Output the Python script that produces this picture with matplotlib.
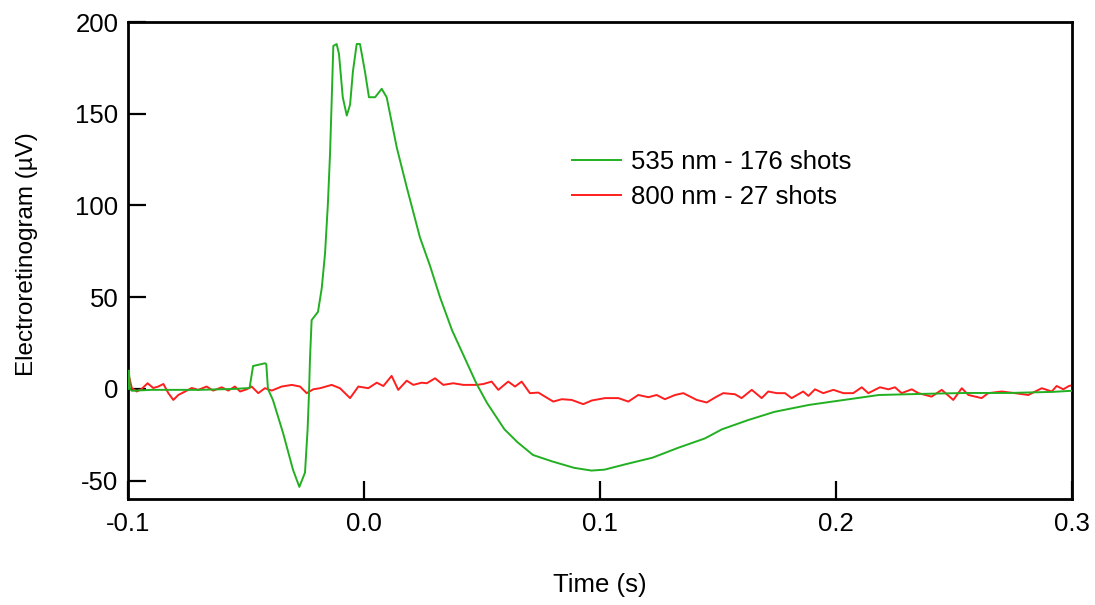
import matplotlib
matplotlib.use("Agg")
import matplotlib.pyplot as plt

plt.rcParams["font.family"] = ["Liberation Sans", "DejaVu Sans"]
plt.rcParams["axes.unicode_minus"] = False

# 535 nm trace (time in s, ERG in uV)
t_green = [-0.1000, -0.0996, -0.0992, -0.0984, -0.090, -0.070, -0.055, -0.0485,
           -0.0470, -0.0419, -0.0414, -0.0407, -0.0386, -0.0343, -0.0301,
           -0.0274, -0.0250, -0.0239, -0.0233, -0.0229, -0.0222, -0.0195,
           -0.0179, -0.0165, -0.0153, -0.0144, -0.0137, -0.0130, -0.0116,
           -0.0106, -0.0090, -0.0073, -0.0059, -0.0047, -0.0031, -0.0017,
           0.0004, 0.0021, 0.0047, 0.0075, 0.0096, 0.0139, 0.0181, 0.0237,
           0.0280, 0.0322, 0.0373, 0.0475, 0.0521, 0.0595, 0.0650, 0.0716,
           0.0797, 0.0890, 0.0964, 0.1019, 0.1110, 0.1222, 0.1333, 0.1444,
           0.1517, 0.1627, 0.1739, 0.1886, 0.2034, 0.2182, 0.2364, 0.2551,
           0.2735, 0.2919, 0.3000]
v_green = [0.0, 10.0, 0.0, -1.0, -0.5, -0.5, 0.0, 0.5,
           12.5, 14.0, 13.5, 0.0, -6.0, -24.0, -44.0,
           -53.4, -45.6, -22.0, -2.0, 16.0, 37.5, 42.0,
           55.0, 74.0, 101.0, 128.0, 157.0, 187.0, 188.0,
           182.6, 159.0, 149.0, 155.0, 173.0, 188.0, 188.0,
           173.0, 159.0, 159.0, 163.6, 159.0, 131.5, 110.0, 82.6,
           67.0, 50.0, 32.0, 3.3, -7.6, -22.0, -29.0, -36.0,
           -39.5, -43.0, -44.5, -44.0, -41.0, -37.5, -32.0, -27.0,
           -22.0, -17.0, -12.5, -8.7, -6.0, -3.3, -2.7, -2.2,
           -2.2, -1.6, -1.0]

# 800 nm trace
t_red = [-0.0999, -0.0984, -0.0963, -0.0942, -0.0917, -0.0893, -0.0872, -0.0850,
         -0.0829, -0.0808, -0.0787, -0.0758, -0.0730, -0.0702, -0.0667, -0.0639,
         -0.0603, -0.0575, -0.0547, -0.0525, -0.0497, -0.0476, -0.0448, -0.0420,
         -0.0391, -0.0349, -0.0306, -0.0271, -0.0243, -0.0215, -0.0186, -0.0137,
         -0.0102, -0.0059, -0.0024, 0.0018, 0.0054, 0.0082, 0.0117, 0.0145,
         0.0181, 0.0209, 0.0244, 0.0266, 0.0301, 0.0336, 0.0378, 0.0421,
         0.0478, 0.0506, 0.0541, 0.0569, 0.0611, 0.0640, 0.0668, 0.0703,
         0.0739, 0.0767, 0.0802, 0.0838, 0.0880, 0.0929, 0.0965, 0.1021,
         0.1078, 0.1120, 0.1162, 0.1205, 0.1240, 0.1275, 0.1318, 0.1353,
         0.1410, 0.1452, 0.1494, 0.1522, 0.1572, 0.1600, 0.1643, 0.1685,
         0.1713, 0.1749, 0.1784, 0.1812, 0.1861, 0.1883, 0.1911, 0.1946,
         0.1989, 0.2031, 0.2073, 0.2109, 0.2137, 0.2186, 0.2222, 0.2250,
         0.2278, 0.2321, 0.2349, 0.2405, 0.2448, 0.2497, 0.2533, 0.2561,
         0.2617, 0.2645, 0.2702, 0.2758, 0.2815, 0.2872, 0.2914, 0.2935,
         0.2963, 0.2987, 0.3000]
v_red = [8.7, 0.5, -1.4, 0.0, 3.1, 0.5, 1.3, 2.7,
         -2.3, -6.0, -3.3, -1.4, 0.5, -0.5, 1.3, -0.9,
         0.9, -0.9, 1.3, -1.4, -0.2, 1.3, -2.3, 0.4,
         -0.9, 1.3, 2.2, 1.3, -2.3, -0.2, 0.4, 2.2,
         0.4, -5.0, 1.3, 0.4, 3.4, 1.6, 7.1, -0.5,
         4.5, 2.2, 3.4, 3.1, 5.8, 2.2, 3.1, 2.2,
         2.2, 2.7, 4.0, -0.5, 4.0, 1.3, 4.0, -2.3,
         -2.0, -4.2, -6.9, -5.6, -6.0, -8.3, -6.3, -5.0,
         -5.0, -6.9, -3.3, -4.5, -3.3, -5.6, -3.3, -2.3,
         -6.0, -7.4, -4.2, -2.3, -2.9, -5.0, -0.5, -5.0,
         -1.4, -2.3, -2.3, -5.0, -1.4, -3.8, -0.2, -2.3,
         -0.5, -2.3, -2.3, 0.9, -2.3, 0.9, -0.2, 0.9,
         -2.3, -0.2, -2.3, -4.2, -0.5, -6.0, 0.4, -3.3,
         -5.0, -2.3, -1.4, -2.3, -3.3, 0.4, -1.4, 1.6,
         -0.2, 1.6, 2.0]

labels = ["535 nm - 176 shots", "800 nm - 27 shots"]
C_GREEN = "#22b022"
C_RED = "#ff1e1e"
FS = 18.5

fig = plt.figure(figsize=(10.95, 6.05), dpi=100)
ax = fig.add_axes([0.1169, 0.1752, 0.8621, 0.7884])

line_red, = ax.plot(t_red, v_red, color=C_RED, lw=1.4, zorder=2)
line_green, = ax.plot(t_green, v_green, color=C_GREEN, lw=1.4, zorder=3)

ax.set_xlim(-0.1, 0.3)
ax.set_ylim(-60, 200)
ax.set_xticks([-0.1, 0.0, 0.1, 0.2, 0.3])
ax.set_xticklabels(["-0.1", "0.0", "0.1", "0.2", "0.3"])
ax.set_yticks([-50, 0, 50, 100, 150, 200])

for s in ax.spines.values():
    s.set_linewidth(2)
ax.tick_params(direction="in", length=13, width=1.6, labelsize=FS)
ax.tick_params(axis="x", pad=9)
ax.tick_params(axis="y", pad=7)

ax.set_xlabel("Time (s)", fontsize=FS, labelpad=27)
ax.set_ylabel("Electroretinogram (\u00b5V)", fontsize=17.5)
ax.yaxis.set_label_coords(-0.0953, 0.514)

ax.legend([line_green, line_red], labels, loc="upper left",
          bbox_to_anchor=(0.470, 0.731), frameon=False, fontsize=FS,
          handlelength=1.9, handletextpad=0.42, labelspacing=0.42,
          borderpad=0, borderaxespad=0)

fig.savefig("out.png", dpi=100, facecolor="white")
